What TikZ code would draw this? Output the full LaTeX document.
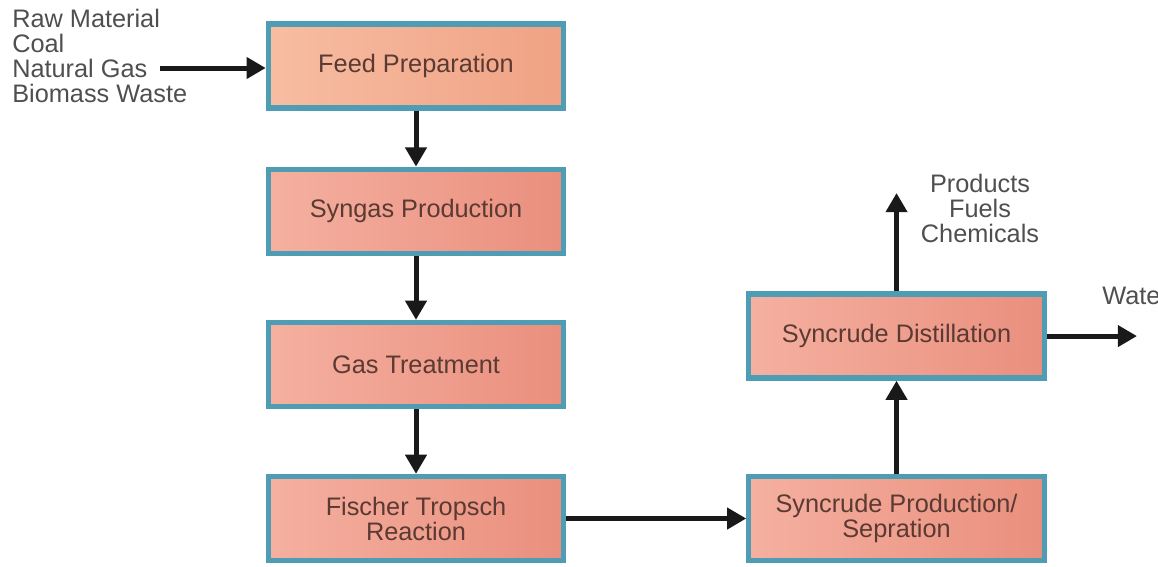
\documentclass[tikz,border=0pt]{standalone}
\usepackage{fontspec}
\setmainfont{Liberation Sans}
\usepackage{xcolor}
\usepackage{tikz}
\usetikzlibrary{arrows.meta,positioning,calc}
\definecolor{boxedge}{HTML}{4E9DB4}
\definecolor{boxtext}{HTML}{5A3A32}
\definecolor{labelgray}{HTML}{4F4F4F}
\definecolor{peachL}{HTML}{F7BDA2}
\definecolor{peachR}{HTML}{F0A284}
\definecolor{salmonL}{HTML}{F5B0A0}
\definecolor{salmonR}{HTML}{EA8F7E}

\begin{document}
\begin{tikzpicture}[x=0.025cm, y=-0.025cm,
        box/.style={draw=boxedge, line width=1.3mm, left color=salmonL, right color=salmonR,
                    minimum width=7.38cm, minimum height=2.1cm, align=center,
                    text=boxtext, font=\fontsize{18}{17.8}\selectfont},
        lbl/.style={text=labelgray, font=\fontsize{18}{17.8}\selectfont, inner sep=0pt},
        arr/.style={-{Triangle[length=4.8mm, width=5.2mm]}, line width=1.25mm, black!90}]
        \useasboundingbox (0,0) rectangle (1158,566);
        \clip (0,0) rectangle (1158,566);
        % main column
        \node[box, left color=peachL, right color=peachR] (feed) at (416,66) {Feed Preparation};
        \node[box, below=1.4cm of feed] (syn) {Syngas Production};
        \node[box, below=1.6cm of syn] (gas) {Gas Treatment};
        \node[box, below=1.62cm of gas] (ft) {Fischer Tropsch\\Reaction};
        % right column
        \node[box, right=4.5cm of ft] (sep) {Syncrude Production/\\Sepration};
        \node[box, above=2.33cm of sep] (dist) {Syncrude Distillation};
        % inputs and outputs
        \node[lbl, anchor=north west, align=left] (raw) at (12,9)
            {Raw Material\\Coal\\Natural Gas\\Biomass Waste};
        \node[lbl, align=center] (prod) at (980,208) {Products\\Fuels\\Chemicals};
        \node[lbl, anchor=west] (water) at (1102,296) {Water};
        \coordinate (rawout) at (160,68);
        \coordinate (prodtip) at (896,193);
        \coordinate (watertip) at (1137,336);
        \draw[arr] (rawout) -- (rawout -| feed.west);
        \draw[arr] (feed) -- (syn);
        \draw[arr] (syn) -- (gas);
        \draw[arr] (gas) -- (ft);
        \draw[arr] (ft) -- (sep);
        \draw[arr] (sep) -- (dist);
        \draw[arr] (dist.north) -- (dist.north |- prodtip);
        \draw[arr] (dist.east) -- (dist.east -| watertip);
      \end{tikzpicture}
\end{document}
